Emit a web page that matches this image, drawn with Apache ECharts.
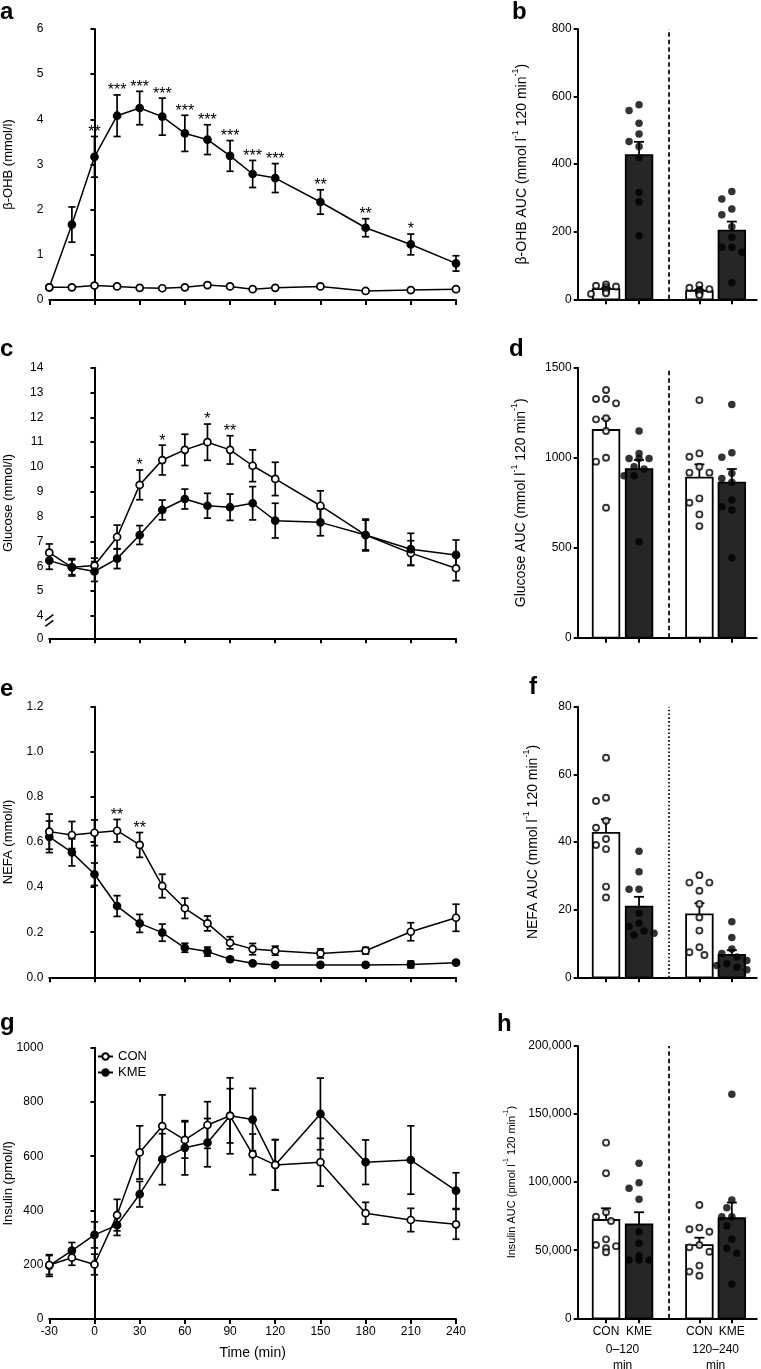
<!DOCTYPE html>
<html><head><meta charset="utf-8">
<script src="https://cdn.jsdelivr.net/npm/echarts@6/dist/echarts.min.js"></script>
<style>html,body{margin:0;padding:0;background:#fff}#c{width:761px;height:1369px}</style>
</head><body><div id="c"></div>
<script>
// ---------------- DATA ----------------
const times = [-30,-15,0,15,30,45,60,75,90,105,120,150,180,210,240];

const ohbCon    = [0.28,0.28,0.32,0.30,0.27,0.26,0.28,0.33,0.30,0.24,0.27,0.30,0.20,0.22,0.24];
const ohbConSem = [0.03,0.03,0.04,0.03,0.03,0.03,0.03,0.04,0.03,0.03,0.03,0.03,0.03,0.03,0.03];
const ohbKme    = [0.28,1.67,3.17,4.08,4.25,4.06,3.69,3.55,3.19,2.79,2.70,2.17,1.60,1.23,0.81];
const ohbKmeSem = [0.03,0.39,0.45,0.46,0.37,0.41,0.40,0.33,0.34,0.30,0.32,0.27,0.20,0.23,0.17];
const ohbStars  = ['','','**','***','***','***','***','***','***','***','***','**','**','*',''];

const gluCon    = [6.55,5.96,6.03,7.18,9.28,10.28,10.69,11.00,10.69,10.05,9.52,8.44,7.26,6.53,5.92];
const gluConSem = [0.35,0.30,0.30,0.48,0.60,0.60,0.63,0.73,0.57,0.64,0.67,0.60,0.60,0.50,0.50];
const gluKme    = [6.23,5.96,5.79,6.31,7.26,8.27,8.71,8.44,8.38,8.54,7.84,7.77,7.26,6.69,6.46];
const gluKmeSem = [0.35,0.35,0.40,0.40,0.38,0.40,0.40,0.50,0.53,0.67,0.70,0.54,0.64,0.64,0.60];
const gluStars  = ['','','','','*','*','','*','**','','','','','',''];
const gluTickLabels = [0,4,5,6,7,8,9,10,11,12,13,14];

const nefaCon    = [0.646,0.631,0.641,0.650,0.587,0.405,0.306,0.239,0.153,0.125,0.118,0.106,0.118,0.202,0.264];
const nefaConSem = [0.078,0.060,0.057,0.050,0.055,0.052,0.045,0.033,0.027,0.025,0.020,0.020,0.015,0.040,0.060];
const nefaKme    = [0.623,0.554,0.457,0.316,0.239,0.198,0.131,0.114,0.080,0.062,0.055,0.055,0.055,0.057,0.065];
const nefaKmeSem = [0.070,0.060,0.050,0.046,0.040,0.038,0.020,0.020,0.010,0.008,0.008,0.008,0.008,0.015,0.008];
const nefaStars  = ['','','','**','**','','','','','','','','','',''];

const insCon    = [199,226,201,383,614,711,660,715,749,607,568,578,390,365,349];
const insConSem = [35,28,38,58,98,115,67,86,100,75,93,88,40,43,55];
const insKme    = [197,252,310,346,460,589,631,650,749,735,568,756,578,586,473];
const insKmeSem = [40,30,48,38,47,94,100,89,140,115,93,132,82,126,66];

const groupLabels  = ['CON','KME'];
const periodLabels = ['0–120\nmin','120–240\nmin'];

// AUC: order = CON 0-120, KME 0-120, CON 120-240, KME 120-240
const ohbAucPoints = [
  [44,40,38,36,30,28,26,22,18,16],
  [559,576,521,489,467,452,420,316,289,188],
  [42,34,30,28,26,24,22,20,16,12],
  [319,297,267,250,215,184,154,154,139,49]];
const ohbAucMean = [30,427,25,203];
const ohbAucSem  = [3,39,3,27];

const gluAucPoints = [
  [1376,1302,1326,1326,1213,1219,1148,1000,978,722],
  [1148,1024,996,996,996,950,937,900,900,533],
  [1320,1024,1005,950,917,917,774,750,685,620],
  [1296,1028,1002,913,885,863,765,728,709,444]];
const gluAucMean = [1154,937,889,861];
const gluAucSem  = [63,50,74,76];

const nefaAucPoints = [
  [64.9,53.1,52.1,46.3,44.2,40.9,37.9,39.1,26.8,23.6],
  [37.3,31.2,26,26,18.9,16,15,13.7,13,12.5],
  [30.2,28,28,25.6,21.7,17.7,13.8,8.9,6.6,7.4],
  [16.4,11.8,8.4,7,6,5,4,3.5,2.2,3]];
const nefaAucMean = [42.7,20.9,18.6,6.6];
const nefaAucSem  = [4.0,2.9,3.3,1.4];

const insAucPoints = [
  [129000,106500,77900,74600,71500,58000,53800,51400,53000,48500],
  [113800,99600,95500,87400,63600,55100,46000,42800,42800,42800],
  [83200,65400,66600,63600,53800,48900,52100,38700,34300,31300],
  [164500,86900,81200,74600,74600,68000,58000,51400,47700,25000]];
const insAucMean = [72200,69000,53800,73500];
const insAucSem  = [8600,8900,5400,11500];

// ---------------- LAYOUT ----------------
const FONT = "'Liberation Sans', Arial, Helvetica, sans-serif";
const LINE_LEFT = 49.3, LINE_W = 406.7;
const BAR_LEFT = 577.7, BAR_W = 179, BAR_XMAX = 5.42;
const lineTops = [29, 367.7, 706.7, 1047.7], lineHs = [271, 270.6, 270.6, 271.3];
const barTops  = [29, 367.7, 706.7, 1046],   barHs  = [270.3, 270, 270.6, 272.3];
const barXs = [0.858, 1.858, 3.685, 4.667];
const groupCenters = [1.358, 4.176];
const dividerX = 2.767;
const GLU_AXIS_MIN = 3.1;

const grids = [], xAxes = [], yAxes = [], series = [];
const axisLineStyle = {show:true, lineStyle:{color:'#000', width:2}};
const tickStyle = {show:true, length:4, lineStyle:{color:'#000', width:2}};
const labelStyle = {color:'#000', fontSize:12, fontFamily:FONT, margin:6};
const plain = (v)=>String(v);

function addGrid(left, top, width, height){
  grids.push({left, top, width, height, outerBoundsMode:'none', containLabel:false});
  return grids.length-1;
}

function errSeries(xi, yi, vals, sems, z){
  return {type:'custom', xAxisIndex:xi, yAxisIndex:yi, z, silent:true, animation:false,
    data: times.map((t,i)=>[t, vals[i], sems[i]]),
    renderItem(params, api){
      const t=api.value(0), m=api.value(1), e=api.value(2);
      const a=api.coord([t,m+e]), b=api.coord([t,m-e]); const w=3.6;
      const st={stroke:'#000', lineWidth:1.7};
      return {type:'group', children:[
        {type:'line', shape:{x1:a[0],y1:a[1],x2:b[0],y2:b[1]}, style:st},
        {type:'line', shape:{x1:a[0]-w,y1:a[1],x2:a[0]+w,y2:a[1]}, style:st},
        {type:'line', shape:{x1:b[0]-w,y1:b[1],x2:b[0]+w,y2:b[1]}, style:st}]};
    }};
}
function lineSeries(xi, yi, name, vals, filled, z, markZero){
  const s = {type:'line', name, xAxisIndex:xi, yAxisIndex:yi, z, silent:true, animation:false,
    data: times.map((t,i)=>[t, vals[i]]),
    symbol:'circle', symbolSize:7, showAllSymbol:true,
    lineStyle:{color:'#000', width:1.5},
    itemStyle:{color: filled?'#000':'#fff', borderColor:'#000', borderWidth:1.7},
    emphasis:{disabled:true}};
  if (markZero) s.markLine = {silent:true, symbol:'none', z:1, label:{show:false},
      lineStyle:{color:'#000', type:[1.6,2.2], width:1.6}, data:[{xAxis:0}]};
  return s;
}
function starSeries(xi, yi, vals, sems, stars){
  const data=[], labels=[];
  times.forEach((t,i)=>{ if(stars[i]){ data.push([t, vals[i]+sems[i]]); labels.push(stars[i]); } });
  return {type:'custom', xAxisIndex:xi, yAxisIndex:yi, z:8, silent:true, animation:false, data,
    renderItem(params, api){
      const p=api.coord([api.value(0), api.value(1)]);
      return {type:'text', style:{text:labels[params.dataIndex], x:p[0], y:p[1]+4,
        align:'center', verticalAlign:'bottom', textAlign:'center', textVerticalAlign:'bottom',
        font:'16px '+FONT, fill:'#000'}};
    }};
}

const lineAxisIdx = [];
function linePanel(row, cfg){
  const gi = addGrid(LINE_LEFT, lineTops[row], LINE_W, lineHs[row]);
  xAxes.push({type:'value', gridIndex:gi, min:-30, max:240, interval:30,
    axisLine:axisLineStyle, axisTick:{show:true, length:5, lineStyle:{color:'#000', width:2}},
    axisLabel: Object.assign({show:!!cfg.xLabels}, labelStyle, {margin:7}),
    splitLine:{show:false}, nameMoveOverlap:false,
    name: cfg.xLabels ? 'Time (min)' : '', nameLocation:'middle', nameGap:27,
    nameTextStyle:{color:'#000', fontSize:14, fontFamily:FONT}});
  const xi = xAxes.length-1;
  yAxes.push(Object.assign({type:'value', gridIndex:gi, axisLine:axisLineStyle, axisTick:tickStyle,
    splitLine:{show:false}, name:cfg.name, nameLocation:'middle', nameGap:cfg.nameGap||34, nameMoveOverlap:false,
    nameTextStyle:{color:'#000', fontSize:13, fontFamily:FONT},
    axisLabel: Object.assign({}, labelStyle, {formatter:plain}, cfg.labelExtra||{})}, cfg.y));
  const yi = yAxes.length-1;
  lineAxisIdx[row] = [xi, yi];
  series.push(errSeries(xi, yi, cfg.kme, cfg.kmeSem, 2));
  series.push(errSeries(xi, yi, cfg.con, cfg.conSem, 2));
  series.push(lineSeries(xi, yi, 'KME', cfg.kme, true, cfg.kmeTop?5:4, false));
  series.push(lineSeries(xi, yi, 'CON', cfg.con, false, cfg.kmeTop?4:5, true));
  if (cfg.stars) series.push(starSeries(xi, yi, cfg.starOn==='con'?cfg.con:cfg.kme, cfg.starOn==='con'?cfg.conSem:cfg.kmeSem, cfg.stars));
}

function swarmOffsets(values, pxPerVal){
  const step=5, diam=9;
  const order = values.map((v,i)=>i).sort((a,b)=>values[b]-values[a]);
  const placed=[], offs=new Array(values.length).fill(0);
  const cands=[0,-1,1,-2,2,-3,3];
  for (const i of order){
    const y = values[i]*pxPerVal;
    for (const k of cands){
      const x = k*step;
      if (placed.every(p=>Math.hypot(p.x-x,p.y-y)>=diam)){ placed.push({x,y}); offs[i]=x; break; }
      if (k===3){ placed.push({x:0,y}); offs[i]=0; }
    }
  }
  return offs;
}

function barPanel(row, cfg){
  const gi = addGrid(BAR_LEFT, barTops[row], BAR_W, barHs[row]);
  const pxPerX = BAR_W/BAR_XMAX;
  xAxes.push({type:'value', gridIndex:gi, min:0, max:BAR_XMAX, position:'bottom',
    axisLine:axisLineStyle,
    axisTick:{show:true, length:5, lineStyle:{color:'#000', width:2}, customValues:barXs},
    axisLabel: Object.assign({}, labelStyle, {show:!!cfg.xLabels, customValues:barXs, margin:7,
      formatter:(v)=>{ let bi=0, bd=1e9; barXs.forEach((lv,i)=>{const d=Math.abs(lv-v); if(d<bd){bd=d;bi=i;}}); return groupLabels[bi%2]; }}),
    splitLine:{show:false}});
  const xi = xAxes.length-1;
  if (cfg.xLabels) {
    xAxes.push({type:'value', gridIndex:gi, min:0, max:BAR_XMAX, position:'bottom', offset:0,
      axisLine:{show:false}, axisTick:{show:false}, splitLine:{show:false},
      axisLabel: Object.assign({}, labelStyle, {customValues:groupCenters, margin:7, lineHeight:16,
        formatter:(v)=> '\n' + periodLabels[Math.abs(v-groupCenters[0]) < Math.abs(v-groupCenters[1]) ? 0 : 1]})});
  }
  const nameFs = cfg.nameFs||13;
  yAxes.push({type:'value', gridIndex:gi, min:0, max:cfg.max, interval:cfg.interval,
    axisLine:axisLineStyle, axisTick:tickStyle, splitLine:{show:false},
    axisLabel:Object.assign({}, labelStyle, {formatter:plain}, cfg.labelExtra||{}),
    name:`{n|${cfg.name} (${cfg.unit} l}{s|-1}{n| 120 min}{s|-1}{n|)}`,
    nameLocation:'middle', nameGap:cfg.nameGap, nameMoveOverlap:false,
    nameTextStyle:{color:'#000', fontFamily:FONT, fontSize:nameFs,
      rich:{n:{fontSize:nameFs, fontFamily:FONT, color:'#000', lineHeight:nameFs+4, verticalAlign:'bottom'},
            s:{fontSize:Math.round(nameFs*0.62), fontFamily:FONT, color:'#000', lineHeight:nameFs+4, verticalAlign:'top'}}}});
  const yi = yAxes.length-1;
  // bars + SEM
  series.push({type:'custom', xAxisIndex:xi, yAxisIndex:yi, z:2, silent:true, animation:false,
    data: barXs.map((x,i)=>[x, cfg.mean[i], cfg.sem[i], i%2]),
    renderItem(params, api){
      const x=api.value(0), m=api.value(1), s=api.value(2), k=api.value(3);
      const p0=api.coord([x,0]), p1=api.coord([x,m]), p2=api.coord([x,m+s]);
      const hw=13.3, cw=5;
      const st={stroke:'#000', lineWidth:1.8};
      return {type:'group', children:[
        {type:'line', shape:{x1:p1[0],y1:p1[1],x2:p2[0],y2:p2[1]}, style:st},
        {type:'line', shape:{x1:p2[0]-cw,y1:p2[1],x2:p2[0]+cw,y2:p2[1]}, style:st},
        {type:'rect', shape:{x:p0[0]-hw, y:p1[1], width:hw*2, height:p0[1]-p1[1]},
          style:{fill:k?'#262626':'#fff', stroke:'#000', lineWidth:1.8}}]};
    }});
  const pxPerVal = barHs[row]/cfg.max;
  [0,1].forEach(kind=>{
    const data=[];
    [kind, kind+2].forEach(bi=>{
      const offs = swarmOffsets(cfg.points[bi], pxPerVal);
      cfg.points[bi].forEach((v,j)=>data.push([barXs[bi]+offs[j]/pxPerX, v]));
    });
    const s = {type:'scatter', xAxisIndex:xi, yAxisIndex:yi, z:4, silent:true, animation:false, data,
      symbol:'circle', symbolSize: kind?7.5:6,
      itemStyle: kind ? {color:'#000'} : {color:'#fff', borderColor:'#000', borderWidth:1.9}};
    if (kind===0) s.markLine = {silent:true, symbol:'none', z:1, label:{show:false},
      lineStyle:{color:'#000', type: cfg.dotted?[1.6,2.2]:[4.5,3], width:1.7}, data:[{xAxis:dividerX}]};
    series.push(s);
  });
}

// ---------- panels ----------
linePanel(0, {con:ohbCon, conSem:ohbConSem, kme:ohbKme, kmeSem:ohbKmeSem, stars:ohbStars, starOn:'kme',
  name:'β-OHB (mmol/l)', y:{min:0, max:6, interval:1}});
linePanel(1, {con:gluCon, conSem:gluConSem, kme:gluKme, kmeSem:gluKmeSem, stars:gluStars, starOn:'con', kmeTop:true,
  name:'Glucose (mmol/l)',
  y:{min:GLU_AXIS_MIN, max:14,
     axisTick:Object.assign({}, tickStyle, {customValues: gluTickLabels.map(v=>v<4?GLU_AXIS_MIN:v)})},
  labelExtra:{customValues: gluTickLabels.map(v=>v<4?GLU_AXIS_MIN:v), formatter:(v)=> v<4 ? String(gluTickLabels[0]) : String(Math.round(v))}});
linePanel(2, {con:nefaCon, conSem:nefaConSem, kme:nefaKme, kmeSem:nefaKmeSem, stars:nefaStars, starOn:'con',
  name:'NEFA (mmol/l)', y:{min:0, max:1.2, interval:0.2}, labelExtra:{formatter:(v)=>v.toFixed(1)}});
linePanel(3, {con:insCon, conSem:insConSem, kme:insKme, kmeSem:insKmeSem, xLabels:true,
  name:'Insulin (pmol/l)', y:{min:0, max:1000, interval:200}});

barPanel(0, {points:ohbAucPoints, mean:ohbAucMean, sem:ohbAucSem, max:800, interval:200,
  name:'β-OHB AUC', unit:'mmol', nameGap:49, nameFs:14});
barPanel(1, {points:gluAucPoints, mean:gluAucMean, sem:gluAucSem, max:1500, interval:500,
  name:'Glucose AUC', unit:'mmol', nameGap:50, nameFs:14});
barPanel(2, {points:nefaAucPoints, mean:nefaAucMean, sem:nefaAucSem, max:80, interval:20, dotted:true,
  name:'NEFA AUC', unit:'mmol', nameGap:38, nameFs:14});
barPanel(3, {points:insAucPoints, mean:insAucMean, sem:insAucSem, max:200000, interval:50000, xLabels:true,
  name:'Insulin AUC', unit:'pmol', nameGap:60, nameFs:11,
  labelExtra:{formatter:(v)=>v.toLocaleString('en-US')}});

const chart = echarts.init(document.getElementById('c'), null, {renderer:'canvas'});
chart.setOption({
  animation:false,
  textStyle:{fontFamily:FONT},
  grid:grids, xAxis:xAxes, yAxis:yAxes, series,
  legend:{data:['CON','KME'], left:97, top:1050, orient:'vertical', itemWidth:15, itemHeight:8, itemGap:3,
    padding:0, selectedMode:false, textStyle:{fontSize:13, fontFamily:FONT, color:'#000'}}
});

// panel letters + axis break mark on glucose axis
const letters = [['a',0,24],['b',512,24],['c',0,361],['d',509,361],['e',0,701],['f',529,699],['g',0,1035],['h',497,1036]];
const gfx = letters.map(([t,x,y])=>({type:'text', style:{text:t, x, y, font:'bold 24px '+FONT, fill:'#000',
  verticalAlign:'bottom', textVerticalAlign:'bottom'}}));
const [gx, gy] = lineAxisIdx[1];
const axX = chart.convertToPixel({xAxisIndex:gx}, -30);
const yA = chart.convertToPixel({yAxisIndex:gy}, 3.93);
const yB = chart.convertToPixel({yAxisIndex:gy}, 3.70);
gfx.push({type:'rect', z:100, shape:{x:axX-3, y:yA, width:6, height:yB-yA}, style:{fill:'#fff'}});
gfx.push({type:'line', z:101, shape:{x1:axX-4, y1:yA+3, x2:axX+4, y2:yA-3}, style:{stroke:'#000', lineWidth:1.5}});
gfx.push({type:'line', z:101, shape:{x1:axX-4, y1:yB+3, x2:axX+4, y2:yB-3}, style:{stroke:'#000', lineWidth:1.5}});
chart.setOption({graphic:gfx});
</script>
</body></html>
